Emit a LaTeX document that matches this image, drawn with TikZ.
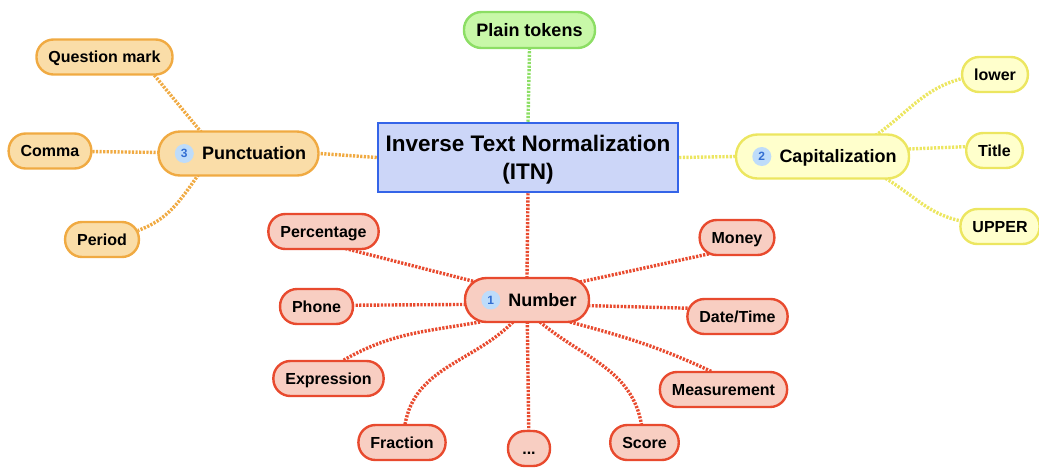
\documentclass[tikz,border=0pt]{standalone}
\usepackage{fontspec}
\setmainfont{Liberation Sans}
\usetikzlibrary{backgrounds}

\definecolor{redfill}{RGB}{248,206,194}
\definecolor{redline}{RGB}{232,74,46}
\definecolor{orfill}{RGB}{250,221,168}
\definecolor{orline}{RGB}{240,170,66}
\definecolor{yefill}{RGB}{255,255,204}
\definecolor{yeline}{RGB}{236,230,96}
\definecolor{grfill}{RGB}{200,248,168}
\definecolor{grline}{RGB}{140,222,100}
\definecolor{bluefill}{RGB}{204,214,248}
\definecolor{blueline}{RGB}{52,100,232}
\definecolor{badgefill}{RGB}{190,220,250}
\definecolor{badgetext}{RGB}{50,110,210}

\tikzset{
  leaf/.style={rectangle, rounded corners=17pt, minimum height=35pt,
    inner xsep=12pt, inner ysep=0pt, line width=2.4pt,
    text height=11.5pt, text depth=0pt,
    font=\fontsize{16}{19}\selectfont\bfseries},
  hub/.style={rectangle, rounded corners=21.5pt, minimum height=44pt,
    inner xsep=12.5pt, inner ysep=0pt, line width=2.4pt,
    text height=12.9pt, text depth=0pt,
    font=\fontsize{18}{21}\selectfont\bfseries},
  redleaf/.style={leaf, draw=redline, fill=redfill},
  orleaf/.style={leaf, draw=orline, fill=orfill},
  yeleaf/.style={leaf, draw=yeline, fill=yefill},
  badge/.style={circle, fill=badgefill, inner sep=0pt, minimum size=19pt,
    text=badgetext, font=\fontsize{12}{13}\selectfont\bfseries},
  link/.style={line width=3.4pt, dash pattern=on 2.2pt off 1.4pt},
  redlink/.style={link, draw=redline},
  orlink/.style={link, draw=orline},
  yelink/.style={link, draw=yeline},
  grlink/.style={link, draw=grline},
}

\newcommand{\badgegap}{\hspace*{31pt}}

\begin{document}
\begin{tikzpicture}[x=1pt,y=1pt]
\useasboundingbox (0,0) rectangle (1039,-467);

% central topic
\node[rectangle, draw=blueline, fill=bluefill, line width=2.5pt,
      minimum width=300pt, minimum height=69pt, align=center, text depth=0pt,
      font=\fontsize{22.5}{27.5}\selectfont\bfseries]
  (itn) at (528,-157.5) {Inverse Text Normalization\\(ITN)};

% plain tokens
\node[hub, draw=grline, fill=grfill, minimum height=36pt, rounded corners=17.5pt]
  (plain) at (529.5,-30) {Plain tokens};

% punctuation branch
\node[hub, draw=orline, fill=orfill] (pun) at (238.5,-153.5) {\badgegap Punctuation};
\node[badge] (b3) at ([xshift=27pt]pun.west) {3};
\node[orleaf] (qm) at (104.5,-57) {Question mark};
\node[orleaf] (comma) at (50,-151) {Comma};
\node[orleaf] (period) at (102,-239.5) {Period};

% capitalization branch
\node[hub, draw=yeline, fill=yefill] (cap) at (822.5,-156.5) {\badgegap Capitalization};
\node[badge] (b2) at ([xshift=27pt]cap.west) {2};
\node[yeleaf] (lower) at (995,-74.5) {lower};
\node[yeleaf] (title) at (994.5,-150.5) {Title};
\node[yeleaf] (upper) at (1000,-226.5) {UPPER};

% number branch
\node[hub, draw=redline, fill=redfill] (num) at (527,-300) {\badgegap Number};
\node[badge] (b1) at ([xshift=27pt]num.west) {1};
\node[redleaf] (pct) at (323.5,-231.5) {Percentage};
\node[redleaf] (phone) at (316.5,-306.5) {Phone};
\node[redleaf] (expr) at (328.5,-378.5) {Expression};
\node[redleaf] (frac) at (402,-442.5) {Fraction};
\node[redleaf, minimum width=42pt] (dots) at (529,-448.5) {...};
\node[redleaf] (score) at (644.5,-442.5) {Score};
\node[redleaf] (meas) at (723.5,-389.5) {Measurement};
\node[redleaf] (dt) at (737.5,-316.5) {Date/Time};
\node[redleaf] (money) at (737,-237.5) {Money};

\begin{pgfonlayer}{background}
  % main branches
  \draw[grlink] (itn.north) -- (plain.south);
  \draw[orlink] (itn.west) -- (pun.east);
  \draw[yelink] (itn.east) -- (cap.west);
  \draw[redlink] (itn.south) -- (num.north);

  % punctuation
  \draw[orlink] ([shift={(-37,21)}]pun.center) -- ([shift={(48,-16)}]qm.center);
  \draw[orlink] (pun.center) -- (comma.center);
  \draw[orlink] ([shift={(-40,-21)}]pun.center) to[out=235,in=20] ([shift={(36,9)}]period.center);

  % capitalization
  \draw[yelink] ([shift={(53,21)}]cap.center) to[out=35,in=195] ([shift={(-33,-4)}]lower.center);
  \draw[yelink] ([yshift=4]cap.center) -- ([yshift=5]title.center);
  \draw[yelink] ([shift={(60,-20)}]cap.center) to[out=-30,in=170] ([shift={(-36,5)}]upper.center);

  % number
  \draw[redlink] ([shift={(-47,17)}]num.center) -- ([shift={(18,-16)}]pct.center);
  \draw[redlink] ([yshift=-4]num.center) -- ([yshift=1]phone.center);
  \draw[redlink] ([shift={(-47,-22)}]num.center) to[out=190,in=30] ([shift={(14.5,18)}]expr.center);
  \draw[redlink] ([shift={(-14,-22)}]num.center) to[out=225,in=80] ([shift={(3,18)}]frac.center);
  \draw[redlink] (num.center) -- (dots.center);
  \draw[redlink] ([shift={(13,-22)}]num.center) to[out=-40,in=100] ([shift={(-3,18)}]score.center);
  \draw[redlink] ([shift={(43,-22)}]num.center) to[out=-15,in=155] ([shift={(-12,18)}]meas.center);
  \draw[redlink] ([yshift=-4]num.center) -- ([yshift=7]dt.center);
  \draw[redlink] ([shift={(53,18)}]num.center) -- ([shift={(-22,-15)}]money.center);
\end{pgfonlayer}
\end{tikzpicture}
\end{document}
